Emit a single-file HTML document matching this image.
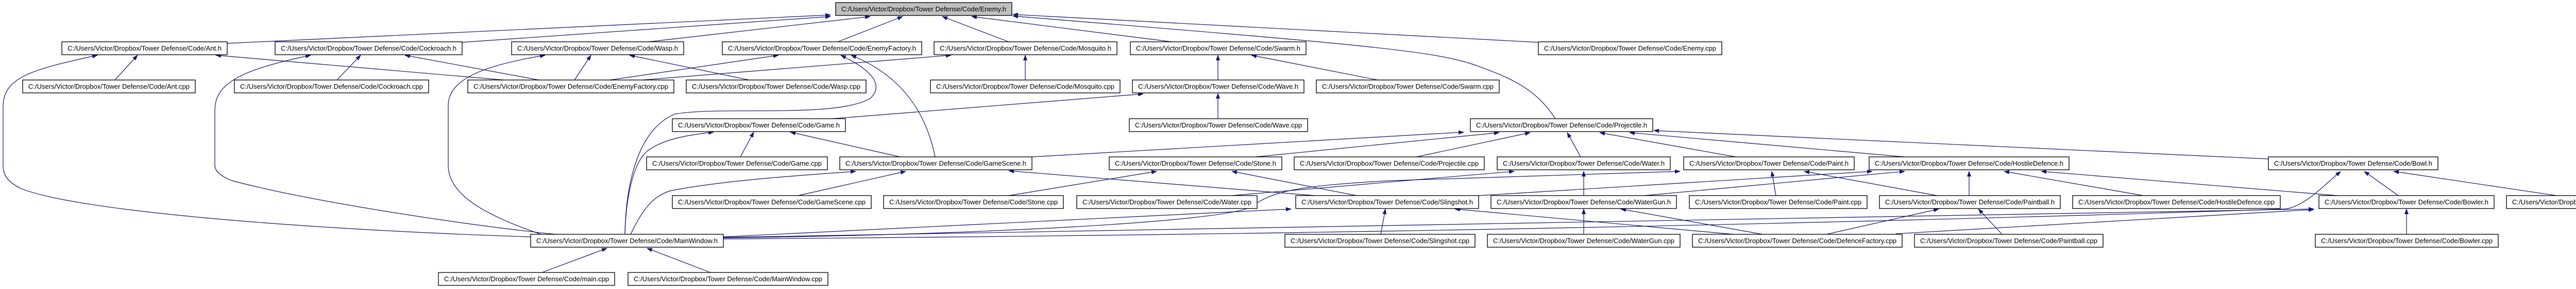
<!DOCTYPE html>
<html><head><meta charset="utf-8"><style>
html,body{margin:0;padding:0;background:#fff;}
svg{display:block;}
text{font-family:"Liberation Sans",Arial,sans-serif;font-size:12.5px;fill:#000;}
.e{fill:none;stroke:#191970;stroke-width:1.2;marker-end:url(#a);}
.n{fill:#fff;stroke:#000;stroke-width:1.3;}
.g{fill:#bfbfbf;stroke:#000;stroke-width:1.3;}
</style></head><body>
<svg width="5213" height="560" viewBox="0 0 5213 560" xmlns="http://www.w3.org/2000/svg">
<defs><marker id="a" markerWidth="11" markerHeight="8" refX="10" refY="4" orient="auto" markerUnits="userSpaceOnUse"><path d="M0,0 L11,4 L0,8z" fill="#191970"/></marker></defs>
<g>
<path class="e" d="M441,84 L1612,29"/>
<path class="e" d="M897,82 L1612,32"/>
<path class="e" d="M1259,81 L1689,32"/>
<path class="e" d="M1626,81 L1752,32"/>
<path class="e" d="M1958,81 L1829,32"/>
<path class="e" d="M2274,81 L1886,32"/>
<path class="e" d="M2986,82 L1966,28"/>
<path class="e" d="M3019,230 C2980,170 2930,150 2860,125 C2780,98 2640,86 1966,31"/>
<path class="e" d="M223,155 L267,107"/>
<path class="e" d="M654,155 L700,107"/>
<path class="e" d="M1030,459 C600,445 150,410 40,365 C10,350 6,335 6,320 L6,207 C6,150 60,135 189,107"/>
<path class="e" d="M1078,454 C900,436 600,390 450,350 C425,340 417,330 417,320 L417,214 C417,160 470,135 603,107"/>
<path class="e" d="M978,155 L419,107"/>
<path class="e" d="M1046,155 L786,107"/>
<path class="e" d="M1115,155 L1147,107"/>
<path class="e" d="M1184,155 L1511,107"/>
<path class="e" d="M1247,155 L1846,107"/>
<path class="e" d="M1454,155 L1222,107"/>
<path class="e" d="M1050,454 C950,420 870,380 870,321 L870,204 C870,150 950,125 1058,107"/>
<path class="e" d="M1213,454 C1215,350 1240,250 1310,221 C1400,205 1626,230 1690,190 C1720,160 1680,130 1632,107"/>
<path class="e" d="M1815,304 C1800,230 1760,150 1652,107"/>
<path class="e" d="M1990,155 L1990,107"/>
<path class="e" d="M2364,155 L2364,107"/>
<path class="e" d="M2674,155 L2429,107"/>
<path class="e" d="M2364,230 L2364,181"/>
<path class="e" d="M1615,230 L2219,182"/>
<path class="e" d="M1437,304 L1463,256"/>
<path class="e" d="M1747,304 L1534,256"/>
<path class="e" d="M1213,454 C1215,380 1230,310 1260,290 C1290,270 1330,262 1385,256"/>
<path class="e" d="M1549,379 L1758,332"/>
<path class="e" d="M1224,454 C1250,400 1270,380 1300,370 C1400,350 1550,340 1661,332"/>
<path class="e" d="M2003,304 L2841,256"/>
<path class="e" d="M2437,304 L2910,257"/>
<path class="e" d="M2749,304 L2970,257"/>
<path class="e" d="M3068,304 L3042,257"/>
<path class="e" d="M3369,304 L3105,257"/>
<path class="e" d="M3697,304 L3163,257"/>
<path class="e" d="M4403,308 L3210,253"/>
<path class="e" d="M1958,379 L2245,332"/>
<path class="e" d="M2633,379 L2391,332"/>
<path class="e" d="M2552,379 L1958,331"/>
<path class="e" d="M2391,379 L2939,332"/>
<path class="e" d="M1404,461 C1900,455 2380,430 2430,400 C2470,370 2520,360 2700,350 L3261,332"/>
<path class="e" d="M2870,379 L3634,332"/>
<path class="e" d="M3192,379 L3697,332"/>
<path class="e" d="M3074,379 L3074,332"/>
<path class="e" d="M3447,379 L3439,332"/>
<path class="e" d="M3760,379 L3502,332"/>
<path class="e" d="M3822,379 L3822,332"/>
<path class="e" d="M4160,379 L3890,332"/>
<path class="e" d="M4537,379 L3962,332"/>
<path class="e" d="M4655,379 L4589,332"/>
<path class="e" d="M4962,379 L4646,332"/>
<path class="e" d="M1404,463 Q3000,452 4436,405 C4470,400 4500,370 4543,332"/>
<path class="e" d="M1404,460 L4491,405"/>
<path class="e" d="M3680,453 L4491,406"/>
<path class="e" d="M1404,459 L2506,405"/>
<path class="e" d="M2680,454 L2689,405"/>
<path class="e" d="M3364,454 L2824,405"/>
<path class="e" d="M3074,454 L3074,405"/>
<path class="e" d="M3421,454 L3146,405"/>
<path class="e" d="M3545,454 L3763,405"/>
<path class="e" d="M3886,454 L3840,405"/>
<path class="e" d="M4671,454 L4671,405"/>
<path class="e" d="M1052,528 L1178,481"/>
<path class="e" d="M1379,528 L1256,481"/>
</g>
<g>
<rect class="g" x="1622" y="5" width="342" height="25"/><text x="1633" y="22" textLength="320" lengthAdjust="spacingAndGlyphs">C:/Users/Victor/Dropbox/Tower Defense/Code/Enemy.h</text>

<rect class="n" x="120" y="81" width="321" height="25"/><text x="131" y="98" textLength="299" lengthAdjust="spacingAndGlyphs">C:/Users/Victor/Dropbox/Tower Defense/Code/Ant.h</text>
<rect class="n" x="534" y="81" width="363" height="25"/><text x="545" y="98" textLength="341" lengthAdjust="spacingAndGlyphs">C:/Users/Victor/Dropbox/Tower Defense/Code/Cockroach.h</text>
<rect class="n" x="993" y="81" width="334" height="25"/><text x="1004" y="98" textLength="312" lengthAdjust="spacingAndGlyphs">C:/Users/Victor/Dropbox/Tower Defense/Code/Wasp.h</text>
<rect class="n" x="1402" y="81" width="387" height="25"/><text x="1413" y="98" textLength="365" lengthAdjust="spacingAndGlyphs">C:/Users/Victor/Dropbox/Tower Defense/Code/EnemyFactory.h</text>
<rect class="n" x="1813" y="81" width="355" height="25"/><text x="1824" y="98" textLength="333" lengthAdjust="spacingAndGlyphs">C:/Users/Victor/Dropbox/Tower Defense/Code/Mosquito.h</text>
<rect class="n" x="2194" y="81" width="341" height="25"/><text x="2205" y="98" textLength="319" lengthAdjust="spacingAndGlyphs">C:/Users/Victor/Dropbox/Tower Defense/Code/Swarm.h</text>
<rect class="n" x="2986" y="81" width="356" height="25"/><text x="2997" y="98" textLength="334" lengthAdjust="spacingAndGlyphs">C:/Users/Victor/Dropbox/Tower Defense/Code/Enemy.cpp</text>

<rect class="n" x="44" y="155" width="335" height="25"/><text x="55" y="172" textLength="313" lengthAdjust="spacingAndGlyphs">C:/Users/Victor/Dropbox/Tower Defense/Code/Ant.cpp</text>
<rect class="n" x="455" y="155" width="377" height="25"/><text x="466" y="172" textLength="355" lengthAdjust="spacingAndGlyphs">C:/Users/Victor/Dropbox/Tower Defense/Code/Cockroach.cpp</text>
<rect class="n" x="908" y="155" width="400" height="25"/><text x="919" y="172" textLength="378" lengthAdjust="spacingAndGlyphs">C:/Users/Victor/Dropbox/Tower Defense/Code/EnemyFactory.cpp</text>
<rect class="n" x="1332" y="155" width="349" height="25"/><text x="1343" y="172" textLength="327" lengthAdjust="spacingAndGlyphs">C:/Users/Victor/Dropbox/Tower Defense/Code/Wasp.cpp</text>
<rect class="n" x="1806" y="155" width="368" height="25"/><text x="1817" y="172" textLength="346" lengthAdjust="spacingAndGlyphs">C:/Users/Victor/Dropbox/Tower Defense/Code/Mosquito.cpp</text>
<rect class="n" x="2198" y="155" width="333" height="25"/><text x="2209" y="172" textLength="311" lengthAdjust="spacingAndGlyphs">C:/Users/Victor/Dropbox/Tower Defense/Code/Wave.h</text>
<rect class="n" x="2555" y="155" width="355" height="25"/><text x="2566" y="172" textLength="333" lengthAdjust="spacingAndGlyphs">C:/Users/Victor/Dropbox/Tower Defense/Code/Swarm.cpp</text>

<rect class="n" x="1305" y="230" width="336" height="25"/><text x="1316" y="247" textLength="314" lengthAdjust="spacingAndGlyphs">C:/Users/Victor/Dropbox/Tower Defense/Code/Game.h</text>
<rect class="n" x="2192" y="230" width="346" height="25"/><text x="2203" y="247" textLength="324" lengthAdjust="spacingAndGlyphs">C:/Users/Victor/Dropbox/Tower Defense/Code/Wave.cpp</text>
<rect class="n" x="2854" y="230" width="354" height="25"/><text x="2865" y="247" textLength="332" lengthAdjust="spacingAndGlyphs">C:/Users/Victor/Dropbox/Tower Defense/Code/Projectile.h</text>

<rect class="n" x="1255" y="304" width="351" height="25"/><text x="1266" y="321" textLength="329" lengthAdjust="spacingAndGlyphs">C:/Users/Victor/Dropbox/Tower Defense/Code/Game.cpp</text>
<rect class="n" x="1630" y="304" width="373" height="25"/><text x="1641" y="321" textLength="351" lengthAdjust="spacingAndGlyphs">C:/Users/Victor/Dropbox/Tower Defense/Code/GameScene.h</text>
<rect class="n" x="2153" y="304" width="335" height="25"/><text x="2164" y="321" textLength="313" lengthAdjust="spacingAndGlyphs">C:/Users/Victor/Dropbox/Tower Defense/Code/Stone.h</text>
<rect class="n" x="2512" y="304" width="369" height="25"/><text x="2523" y="321" textLength="347" lengthAdjust="spacingAndGlyphs">C:/Users/Victor/Dropbox/Tower Defense/Code/Projectile.cpp</text>
<rect class="n" x="2906" y="304" width="336" height="25"/><text x="2917" y="321" textLength="314" lengthAdjust="spacingAndGlyphs">C:/Users/Victor/Dropbox/Tower Defense/Code/Water.h</text>
<rect class="n" x="3268" y="304" width="331" height="25"/><text x="3279" y="321" textLength="309" lengthAdjust="spacingAndGlyphs">C:/Users/Victor/Dropbox/Tower Defense/Code/Paint.h</text>
<rect class="n" x="3628" y="304" width="388" height="25"/><text x="3639" y="321" textLength="366" lengthAdjust="spacingAndGlyphs">C:/Users/Victor/Dropbox/Tower Defense/Code/HostileDefence.h</text>
<rect class="n" x="4403" y="304" width="329" height="25"/><text x="4414" y="321" textLength="307" lengthAdjust="spacingAndGlyphs">C:/Users/Victor/Dropbox/Tower Defense/Code/Bowl.h</text>

<rect class="n" x="1305" y="379" width="386" height="25"/><text x="1316" y="396" textLength="364" lengthAdjust="spacingAndGlyphs">C:/Users/Victor/Dropbox/Tower Defense/Code/GameScene.cpp</text>
<rect class="n" x="1715" y="379" width="349" height="25"/><text x="1726" y="396" textLength="327" lengthAdjust="spacingAndGlyphs">C:/Users/Victor/Dropbox/Tower Defense/Code/Stone.cpp</text>
<rect class="n" x="2090" y="379" width="350" height="25"/><text x="2101" y="396" textLength="328" lengthAdjust="spacingAndGlyphs">C:/Users/Victor/Dropbox/Tower Defense/Code/Water.cpp</text>
<rect class="n" x="2515" y="379" width="355" height="25"/><text x="2526" y="396" textLength="333" lengthAdjust="spacingAndGlyphs">C:/Users/Victor/Dropbox/Tower Defense/Code/Slingshot.h</text>
<rect class="n" x="2894" y="379" width="360" height="25"/><text x="2905" y="396" textLength="338" lengthAdjust="spacingAndGlyphs">C:/Users/Victor/Dropbox/Tower Defense/Code/WaterGun.h</text>
<rect class="n" x="3279" y="379" width="345" height="25"/><text x="3290" y="396" textLength="323" lengthAdjust="spacingAndGlyphs">C:/Users/Victor/Dropbox/Tower Defense/Code/Paint.cpp</text>
<rect class="n" x="3648" y="379" width="351" height="25"/><text x="3659" y="396" textLength="329" lengthAdjust="spacingAndGlyphs">C:/Users/Victor/Dropbox/Tower Defense/Code/Paintball.h</text>
<rect class="n" x="4023" y="379" width="403" height="25"/><text x="4034" y="396" textLength="381" lengthAdjust="spacingAndGlyphs">C:/Users/Victor/Dropbox/Tower Defense/Code/HostileDefence.cpp</text>
<rect class="n" x="4501" y="379" width="340" height="25"/><text x="4512" y="396" textLength="318" lengthAdjust="spacingAndGlyphs">C:/Users/Victor/Dropbox/Tower Defense/Code/Bowler.h</text>
<rect class="n" x="4865" y="379" width="344" height="25"/><text x="4876" y="396" textLength="322" lengthAdjust="spacingAndGlyphs">C:/Users/Victor/Dropbox/Tower Defense/Code/Bowl.cpp</text>

<rect class="n" x="1030" y="454" width="374" height="25"/><text x="1041" y="471" textLength="352" lengthAdjust="spacingAndGlyphs">C:/Users/Victor/Dropbox/Tower Defense/Code/MainWindow.h</text>
<rect class="n" x="2494" y="454" width="369" height="25"/><text x="2505" y="471" textLength="347" lengthAdjust="spacingAndGlyphs">C:/Users/Victor/Dropbox/Tower Defense/Code/Slingshot.cpp</text>
<rect class="n" x="2887" y="454" width="374" height="25"/><text x="2898" y="471" textLength="352" lengthAdjust="spacingAndGlyphs">C:/Users/Victor/Dropbox/Tower Defense/Code/WaterGun.cpp</text>
<rect class="n" x="3285" y="454" width="407" height="25"/><text x="3296" y="471" textLength="385" lengthAdjust="spacingAndGlyphs">C:/Users/Victor/Dropbox/Tower Defense/Code/DefenceFactory.cpp</text>
<rect class="n" x="3716" y="454" width="366" height="25"/><text x="3727" y="471" textLength="344" lengthAdjust="spacingAndGlyphs">C:/Users/Victor/Dropbox/Tower Defense/Code/Paintball.cpp</text>
<rect class="n" x="4494" y="454" width="355" height="25"/><text x="4505" y="471" textLength="333" lengthAdjust="spacingAndGlyphs">C:/Users/Victor/Dropbox/Tower Defense/Code/Bowler.cpp</text>

<rect class="n" x="851" y="528" width="342" height="25"/><text x="862" y="545" textLength="320" lengthAdjust="spacingAndGlyphs">C:/Users/Victor/Dropbox/Tower Defense/Code/main.cpp</text>
<rect class="n" x="1219" y="528" width="388" height="25"/><text x="1230" y="545" textLength="366" lengthAdjust="spacingAndGlyphs">C:/Users/Victor/Dropbox/Tower Defense/Code/MainWindow.cpp</text>
</g>
</svg>
</body></html>
